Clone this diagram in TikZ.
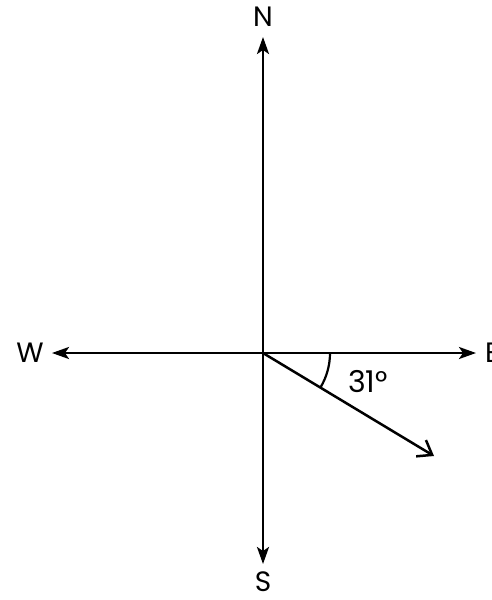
\documentclass[tikz,border=0pt]{standalone}
\usepackage{fontspec}
\setmainfont{Poppins}
\usetikzlibrary{arrows.meta}
\begin{document}
\begin{tikzpicture}[x=1pt,y=-1pt,
  axis/.style={line width=2.5pt,-{Stealth[length=17pt,width=12pt,inset=4pt]}},
  dir/.style={line width=2.5pt,-{Straight Barb[length=13pt,width=19pt,line width=2.5pt]}},
  lbl/.style={font=\fontsize{28}{28}\selectfont,inner sep=0pt}]
\useasboundingbox (0,0) rectangle (492,600);
\coordinate (O) at (263,353);
\coordinate (Ntip) at (263,37);
\coordinate (Stip) at (263,564);
\coordinate (Wtip) at (52,353);
\coordinate (Etip) at (476,353);
\coordinate (Dtip) at (434,456);
\draw[axis] (O) -- (Ntip);
\draw[axis] (O) -- (Stip);
\draw[axis] (O) -- (Wtip);
\draw[axis] (O) -- (Etip);
\draw[dir] (O) -- (Dtip);
\draw[line width=2.2pt] (O) ++(0:67) arc[start angle=0,end angle=31,radius=67];
\node[lbl] (N) at (263,17) {N};
\node[lbl] (S) at (263,582) {S};
\node[lbl] (W) at (30,353) {W};
\node[lbl,anchor=west] (E) at (485,353) {E};
\node[lbl,font=\fontsize{30}{30}\selectfont] (ang) at (368,382) {31°};
\end{tikzpicture}
\end{document}
